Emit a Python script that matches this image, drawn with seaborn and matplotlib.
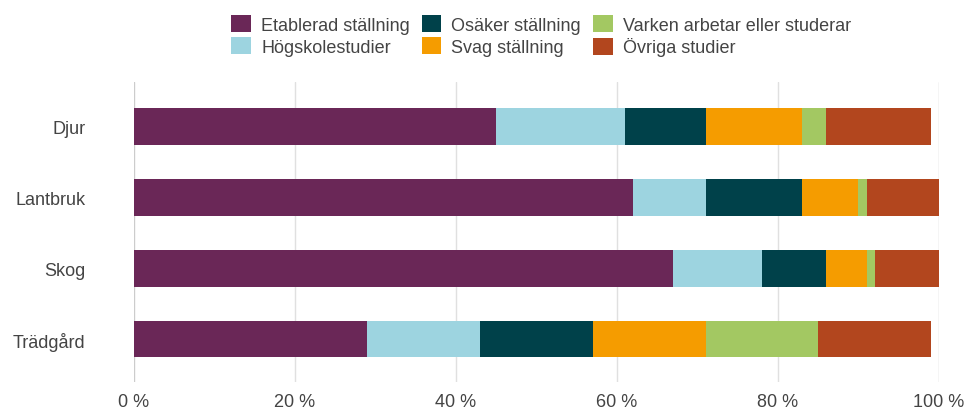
import pandas as pd
import matplotlib
matplotlib.use("Agg")
import matplotlib.pyplot as plt
import seaborn as sns
from matplotlib.patches import Patch
from matplotlib.ticker import FuncFormatter

categories = ["Djur", "Lantbruk", "Skog", "Trädgård"]
series = ["Etablerad ställning", "Högskolestudier", "Osäker ställning",
          "Svag ställning", "Varken arbetar eller studerar", "Övriga studier"]
etablerad = [45, 62, 67, 29]
hogskola = [16, 9, 11, 14]
osaker = [10, 12, 8, 14]
svag = [12, 7, 5, 14]
varken = [3, 1, 1, 14]
ovriga = [13, 9, 8, 14]
colors = ["#6a2757", "#9dd4e0", "#00414a", "#f59c00", "#a3c862", "#b2461e"]

sns.set_style("white")
plt.rcParams["font.family"] = ["Liberation Sans", "DejaVu Sans"]

df = pd.DataFrame({"kategori": categories, series[0]: etablerad, series[1]: hogskola,
                   series[2]: osaker, series[3]: svag, series[4]: varken, series[5]: ovriga})
cum = df.set_index("kategori")[series].cumsum(axis=1)

fig = plt.figure(figsize=(9.66, 4.10), dpi=100)
ax = fig.add_axes([0.1387, 0.066, 0.8333, 0.732])

for ticks in range(0, 101, 20):
    ax.axvline(ticks, color="#cccccc" if ticks in (0, 100) else "#e0e0e0", lw=1, zorder=0)

# stacked: draw cumulative ends from the outermost segment inward
for s, c in reversed(list(zip(series, colors))):
    sns.barplot(x=cum[s].values, y=categories, orient="h", color=c, width=0.51,
                ax=ax, zorder=2, linewidth=0, saturation=1)

ax.set_xlim(0, 100)
ax.set_ylim(3.6, -0.63)
ax.set_xticks(range(0, 101, 20))
ax.xaxis.set_major_formatter(FuncFormatter(lambda v, p: f"{int(v)} %"))
ax.tick_params(axis="both", length=0, labelsize=13, colors="#444444")
ax.tick_params(axis="x", pad=8)
ax.tick_params(axis="y", pad=35)
ax.set_xlabel("")
ax.set_ylabel("")
for sp in ax.spines.values():
    sp.set_visible(False)

handles = [Patch(facecolor=c, edgecolor="none", label=s) for s, c in zip(series, colors)]
fig.legend(handles=handles, ncol=3, loc="center", bbox_to_anchor=(0.56, 0.91),
           frameon=False, fontsize=13, labelcolor="#444444", handlelength=1.1,
           handleheight=1.05, handletextpad=0.55, columnspacing=0.65, labelspacing=0.2,
           borderpad=0)

plt.savefig("out.png", dpi=100)
plt.close()
